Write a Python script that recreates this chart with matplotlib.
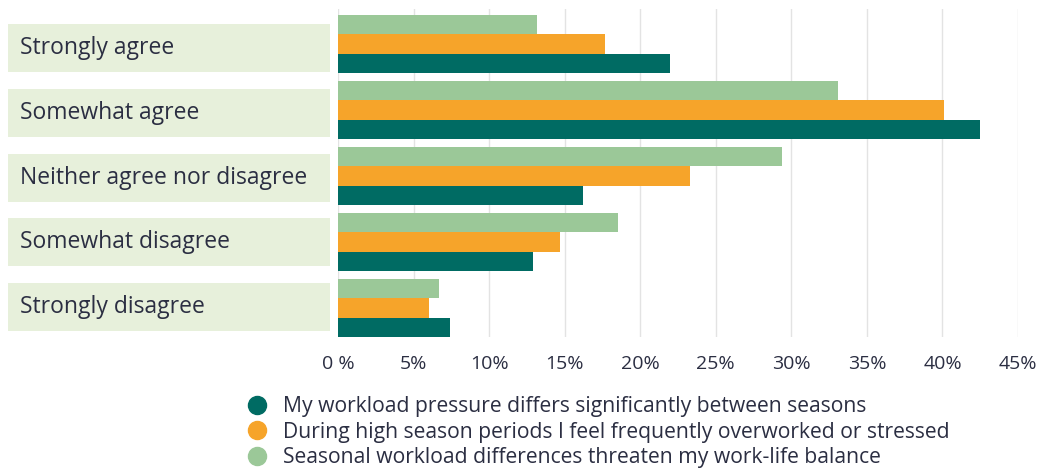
import matplotlib
matplotlib.use("Agg")
import matplotlib.pyplot as plt
import matplotlib.transforms as mtransforms
from matplotlib.lines import Line2D
from matplotlib.patches import Rectangle

plt.rcParams['font.family'] = ['Open Sans', 'DejaVu Sans']

categories = ["Strongly agree", "Somewhat agree", "Neither agree nor disagree",
              "Somewhat disagree", "Strongly disagree"]
workload_differs = [22.0, 42.5, 16.2, 12.9, 7.4]
overworked_high_season = [17.7, 40.1, 23.3, 14.7, 6.0]
threatens_balance = [13.2, 33.1, 29.4, 18.5, 6.7]
series_labels = ["My workload pressure differs significantly between seasons",
                 "During high season periods I feel frequently overworked or stressed",
                 "Seasonal workload differences threaten my work-life balance"]
ticks = [0, 5, 10, 15, 20, 25, 30, 35, 40, 45]
tick_labels = ["0 %"] + [f"{t}%" for t in ticks[1:]]

dark = "#006b63"
orange = "#f6a42a"
light = "#9bc898"
box_col = "#e7f0db"
txt = "#2b2e42"

W, H = 1048, 468
fig = plt.figure(figsize=(W / 100, H / 100), dpi=100)
ax = fig.add_axes([338 / W, 1 - 337 / H, (1018 - 338) / W, (337 - 9) / H])

y = list(range(len(categories)))
h = 0.295
ax.barh([v + h for v in y], workload_differs, height=h, color=dark, zorder=3)
ax.barh(y, overworked_high_season, height=h, color=orange, zorder=3)
ax.barh([v - h for v in y], threatens_balance, height=h, color=light, zorder=3)

ax.set_xlim(0, 45)
ax.set_ylim(4.44, -0.53)
ax.set_xticks(ticks)
ax.set_xticklabels(tick_labels, fontsize=14, color=txt)
ax.tick_params(axis='x', length=0, pad=13)
ax.set_yticks([])
ax.grid(axis='x', color="#e3e3e3", lw=1, zorder=0)
for s in ax.spines.values():
    s.set_visible(False)

# label boxes on the left (spaced a touch tighter than the bar groups)
trans = mtransforms.blended_transform_factory(fig.transFigure, ax.transData)
bh = 0.728
for i, c in enumerate(categories):
    yc = i * 0.9825 + 0.06
    ax.add_patch(Rectangle((8 / W, yc - bh / 2), (330 - 8) / W, bh, transform=trans,
                           facecolor=box_col, edgecolor='none', clip_on=False))
    ax.text(20 / W, yc, c, transform=trans, fontsize=16.5, color=txt,
            va='center', ha='left')

handles = [Line2D([], [], marker='o', ls='none', color=col, markersize=13)
           for col in (dark, orange, light)]
fig.legend(handles, series_labels, loc='upper left', bbox_to_anchor=(246 / W, 1 - 396 / H),
           frameon=False, fontsize=15.2, labelcolor=txt, handlelength=1.0,
           handletextpad=0.75, labelspacing=0.22, borderaxespad=0, borderpad=0)

fig.savefig("out.png", dpi=100)
